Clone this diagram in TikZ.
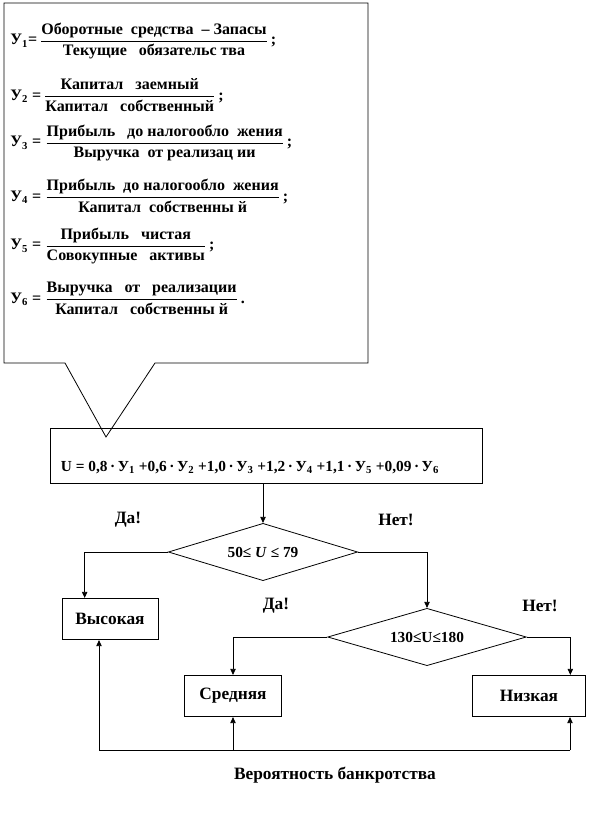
\documentclass[tikz,border=0pt]{standalone}
\usepackage{amsmath}
\usepackage{fontspec}
\setmainfont{Liberation Serif}
\usepackage{tikz}
\usetikzlibrary{arrows.meta,positioning,calc,shapes.geometric}

\tikzset{
  line/.style={draw=black,line width=0.6pt},
  arr/.style={line,-{Triangle[length=4.5pt,width=4pt]}},
  box/.style={line,rectangle,minimum height=31pt,inner sep=2pt,font=\bfseries\fontsize{13}{15}\selectfont},
  cond/.style={line,diamond,aspect=3,inner sep=0pt,minimum width=142pt,minimum height=43pt,font=\bfseries\fontsize{11.5}{13}\selectfont},
  frm/.style={anchor=west,inner sep=0pt,font=\bfseries\fontsize{12}{14}\selectfont},
  tag/.style={font=\bfseries\fontsize{13}{15}\selectfont}
}
\newcommand{\fr}[2]{$\dfrac{\text{#1}}{\text{#2}}$}

\begin{document}
\begin{tikzpicture}[x=0.75pt,y=-0.75pt]
  \useasboundingbox (0,0) rectangle (589,818);

  % callout with the ratios
  \draw[line] (4,3) -- (368,3) -- (368,363) -- (155,363) -- (106,437)
    -- (65,363) -- (4,363) -- cycle;
  \node[frm] (y1) at (10,41) {У\textsubscript{1}=\,\fr{Оборотные\ \ средства\ \ -- Запасы}{Текущие\ \ \ обязательс тва}\,;};
  \node[frm] (y2) at (10,95) {У\textsubscript{2} =\,\fr{Капитал\ \ \ заемный}{Капитал\ \ \ собственный}\,;};
  \node[frm] (y3) at (10,143) {У\textsubscript{3} =\ \fr{Прибыль\ \ \ до\ налогообло\ \ жения}{Выручка\ \ от\ реализац ии}\,;};
  \node[frm] (y4) at (10,196) {У\textsubscript{4} =\ \fr{Прибыль\ \ до\ налогообло\ \ жения}{Капитал\ \ собственны й}\,;};
  \node[frm] (y5) at (10,246) {У\textsubscript{5} =\ \fr{Прибыль\ \ \ чистая}{Совокупные\ \ \ активы}\,;};
  \node[frm] (y6) at (10,298) {У\textsubscript{6} =\ \fr{Выручка\ \ \ от\ \ \ реализации}{Капитал\ \ \ собственны й}\,.};

  % index
  \node[line,rectangle,minimum width=324pt,minimum height=41pt,inner sep=3pt,
        text height=29pt,text depth=6pt,font=\bfseries\fontsize{11.5}{13}\selectfont]
    (uform) at (266,456)
    {U = 0,8\,·\,У\textsubscript{1} +0,6\,·\,У\textsubscript{2} +1,0\,·\,У\textsubscript{3} +1,2\,·\,У\textsubscript{4} +1,1\,·\,У\textsubscript{5} +0,09\,·\,У\textsubscript{6}\hspace*{24pt}};

  \node[cond] (d1) at (263,552) {50≤ \textit{U} ≤ 79};
  \node[cond,minimum width=149pt] (d2) at (427,637) {130≤U≤180};

  \node[box,minimum width=72pt] (vys) at (110,619) {Высокая};
  \node[box,minimum width=73pt] (sred) at (233,696) {Средняя};
  \node[box,minimum width=85pt] (niz) at (529,696) {Низкая};

  \node[tag] (da1) at (128,520) {Да!};
  \node[tag] (net1) at (396,520) {Нет!};
  \node[tag] (da2) at (276,606) {Да!};
  \node[tag] (net2) at (540,606) {Нет!};

  \draw[arr] (d1.north |- uform.south) -- (d1.north);
  \draw[arr] (d1.west) -| ([xshift=-19pt]vys.north);
  \draw[arr] (d1.east) -| (d2.north);
  \draw[arr] (d2.west) -| (sred.north);
  \draw[arr] (d2.east) -| ([xshift=31pt]niz.north);

  % bottom bus
  \coordinate (bl) at (99,750);
  \coordinate (br) at (570,750);
  \draw[line] (bl) -- (br);
  \draw[arr] (bl) -- (bl |- vys.south);
  \draw[arr] (sred.south |- bl) -- (sred.south);
  \draw[arr] (br) -- (br |- niz.south);

  \node[tag] (prob) at (335,775) {Вероятность банкротства};
\end{tikzpicture}
\end{document}
